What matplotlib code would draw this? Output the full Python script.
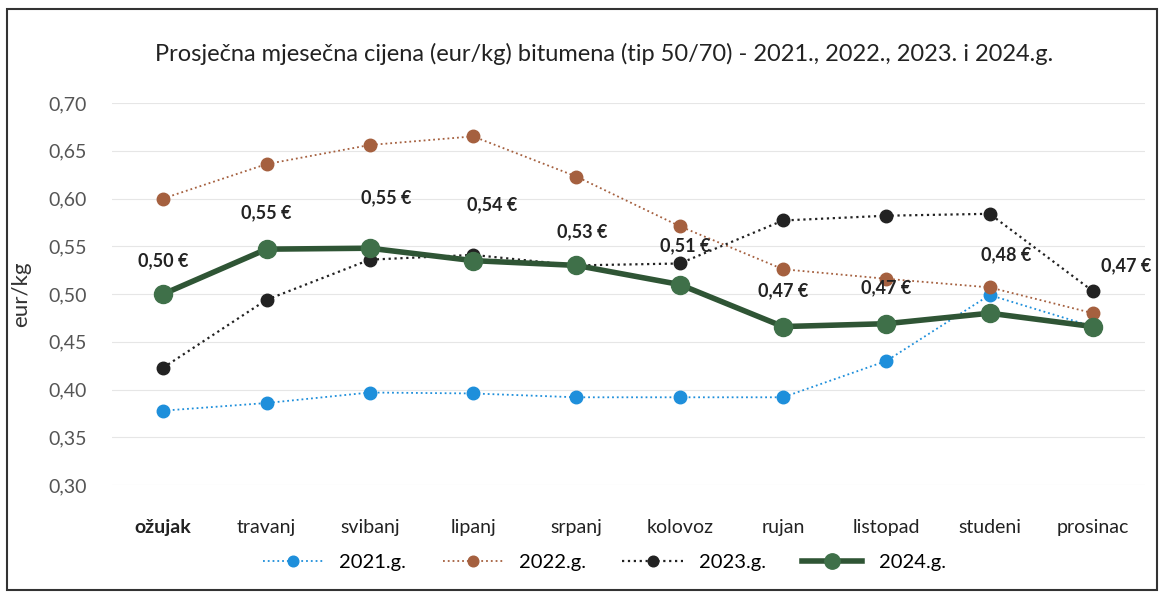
import matplotlib.pyplot as plt
from matplotlib.patches import Rectangle

plt.rcParams['font.family'] = ['Lato', 'DejaVu Sans']

# monthly average bitumen price (eur/kg)
months = ['ožujak', 'travanj', 'svibanj', 'lipanj', 'srpanj',
          'kolovoz', 'rujan', 'listopad', 'studeni', 'prosinac']
y2021 = [0.378, 0.386, 0.397, 0.396, 0.392, 0.392, 0.392, 0.430, 0.499, 0.466]
y2022 = [0.600, 0.636, 0.656, 0.665, 0.623, 0.571, 0.526, 0.516, 0.507, 0.480]
y2023 = [0.423, 0.494, 0.536, 0.541, 0.530, 0.532, 0.577, 0.582, 0.584, 0.503]
y2024 = [0.500, 0.547, 0.548, 0.535, 0.530, 0.510, 0.466, 0.469, 0.480, 0.466]

# offsets (points) of the 2024 value labels
label_offsets = [(0, 18), (0, 20), (12, 30), (14, 34), (4, 18),
                 (4, 22), (0, 20), (0, 20), (12, 36), (24, 38)]

fig = plt.figure(figsize=(11.62, 6.02), dpi=100)
ax = fig.add_axes([0.096, 0.194, 0.889, 0.635])

x = list(range(len(months)))
ax.plot(x, y2021, ':', color='#1E8FDB', lw=1.3, marker='o', ms=9, label='2021.g.')
ax.plot(x, y2022, ':', color='#A5603F', lw=1.3, marker='o', ms=9, label='2022.g.')
ax.plot(x, y2023, ':', color='#222222', lw=1.6, marker='o', ms=9, label='2023.g.')
ax.plot(x, y2024, '-', color='#2F5535', lw=4, marker='o', ms=13,
        mfc='#3F7049', mec='#3F7049', label='2024.g.')

for i, v in enumerate(y2024):
    ax.annotate(f'{v:.2f} €'.replace('.', ','), (i, v), xytext=label_offsets[i],
                textcoords='offset points', ha='center', va='bottom',
                fontsize=13, fontweight='bold', color='#222222')

ax.set_xlim(-0.5, len(months) - 0.5)
ax.set_ylim(0.30, 0.70)
yt = [0.30 + 0.05 * k for k in range(9)]
ax.set_yticks(yt)
ax.set_yticklabels([f'{t:.2f}'.replace('.', ',') for t in yt], fontsize=14, color='#555555')
ax.set_xticks(x)
ax.set_xticklabels(months, fontsize=14, color='#222222')
ax.get_xticklabels()[0].set_fontweight('bold')
ax.tick_params(axis='both', length=0)
ax.tick_params(axis='y', pad=18)
ax.tick_params(axis='x', pad=24)
ax.grid(axis='y', color='#e6e6e6', lw=0.8)
ax.set_axisbelow(True)
for s in ax.spines.values():
    s.set_visible(False)

ax.set_ylabel('eur/kg', fontsize=16, color='#333333', labelpad=12)
fig.text(0.52, 0.91, 'Prosječna mjesečna cijena (eur/kg) bitumena (tip 50/70) - 2021., 2022., 2023. i 2024.g.',
         ha='center', va='center', fontsize=17, color='#222222')

fig.legend(loc='center', bbox_to_anchor=(0.52, 0.065), ncol=4, frameon=False,
           fontsize=14.5, handlelength=3, columnspacing=1.8, markerscale=0.85)

fig.patches.append(Rectangle((0.006, 0.02), 0.99, 0.965, transform=fig.transFigure,
                             fill=False, ec='#333333', lw=1.5))

fig.savefig('out.png', dpi=100)
